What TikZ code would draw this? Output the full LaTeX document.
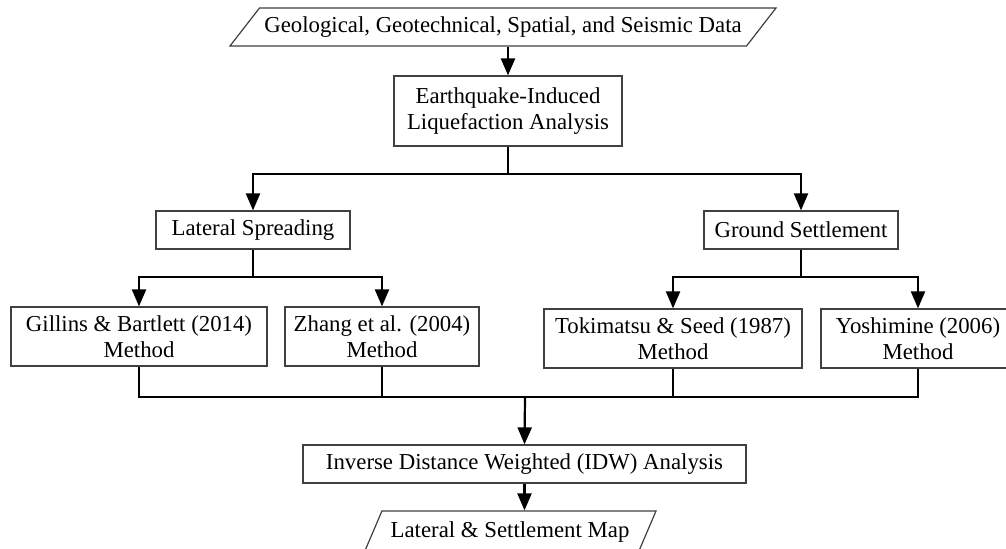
\documentclass[tikz,border=0pt]{standalone}
\usepackage{fontspec}
\setmainfont{Liberation Serif}
\usetikzlibrary{shapes.geometric, arrows.meta}

\begin{document}
\begin{tikzpicture}[x=0.5pt, y=-0.5pt,
    box/.style={draw=black!75, line width=0.6pt, align=center, inner sep=1pt,
      font=\fontsize{11.4}{13}\selectfont},
    io/.style={box, trapezium, trapezium stretches body},
    link/.style={line width=1.1pt},
    flow/.style={link, -{Triangle[length=8.5pt, width=7pt]}}]

        % Page frame (image pixels, y downwards)
        \useasboundingbox (0,0) rectangle (1006,549);
        \fill[white] (0,0) rectangle (1006,549);
        \clip (0,0) rectangle (1006,549);

        % Input and first analysis step
        \node[io, trapezium left angle=40, trapezium right angle=140,
          minimum width=273pt, minimum height=19pt] (data) at (503,27)
          {Geological, Geotechnical, Spatial, and Seismic Data};
        \node[box, minimum width=114pt, minimum height=35pt] (quake) at (508,111)
          {Earthquake-Induced\\Liquefaction Analysis};

        % Two hazards
        \node[box, minimum width=97pt, minimum height=19pt] (spread) at (253,230) {Lateral Spreading};
        \node[box, minimum width=97pt, minimum height=19pt] (settle) at (801,230) {Ground Settlement};

        % Methods for each hazard
        \node[box, minimum width=128pt, minimum height=29.5pt] (gillins) at (139,336.5)
          {Gillins \& Bartlett (2014)\\Method};
        \node[box, minimum width=97pt, minimum height=29.5pt] (zhang) at (382,336.5)
          {Zhang et al. (2004)\\Method};
        \node[box, minimum width=129pt, minimum height=29.5pt] (tokimatsu) at (673,338.5)
          {Tokimatsu \& Seed (1987)\\Method};
        \node[box, minimum width=97pt, minimum height=29.5pt] (yoshimine) at (918,338.5)
          {Yoshimine (2006)\\Method};

        % Interpolation and output map
        \node[box, minimum width=221.5pt, minimum height=19pt] (idw) at (524.5,464)
          {Inverse Distance Weighted (IDW) Analysis};
        \node[io, trapezium left angle=54, trapezium right angle=126,
          minimum width=146pt, minimum height=21pt] (map) at (510,532)
          {Lateral \& Settlement Map};

        % Branch points
        \coordinate (fork) at (508,174);
        \coordinate (forkL) at (253,277);
        \coordinate (forkR) at (801,277);
        \coordinate (join) at (525,397);

        % Connectors
        \draw[flow] (data.south -| quake.north) -- (quake.north);
        \draw[link] (quake.south) -- (fork);
        \draw[flow] (fork) -| (spread.north);
        \draw[flow] (fork) -| (settle.north);

        \draw[link] (spread.south) -- (forkL);
        \draw[flow] (forkL) -| (gillins.north);
        \draw[flow] (forkL) -| (zhang.north);
        \draw[link] (settle.south) -- (forkR);
        \draw[flow] (forkR) -| (tokimatsu.north);
        \draw[flow] (forkR) -| (yoshimine.north);

        \draw[link] (gillins.south) |- (join);
        \draw[link] (zhang.south) |- (join);
        \draw[link] (tokimatsu.south) |- (join);
        \draw[link] (yoshimine.south) |- (join);
        \draw[flow] (join) -- (idw.north);
        \draw[flow] (idw.south) -- (map.north -| idw.south);

\end{tikzpicture}
\end{document}
